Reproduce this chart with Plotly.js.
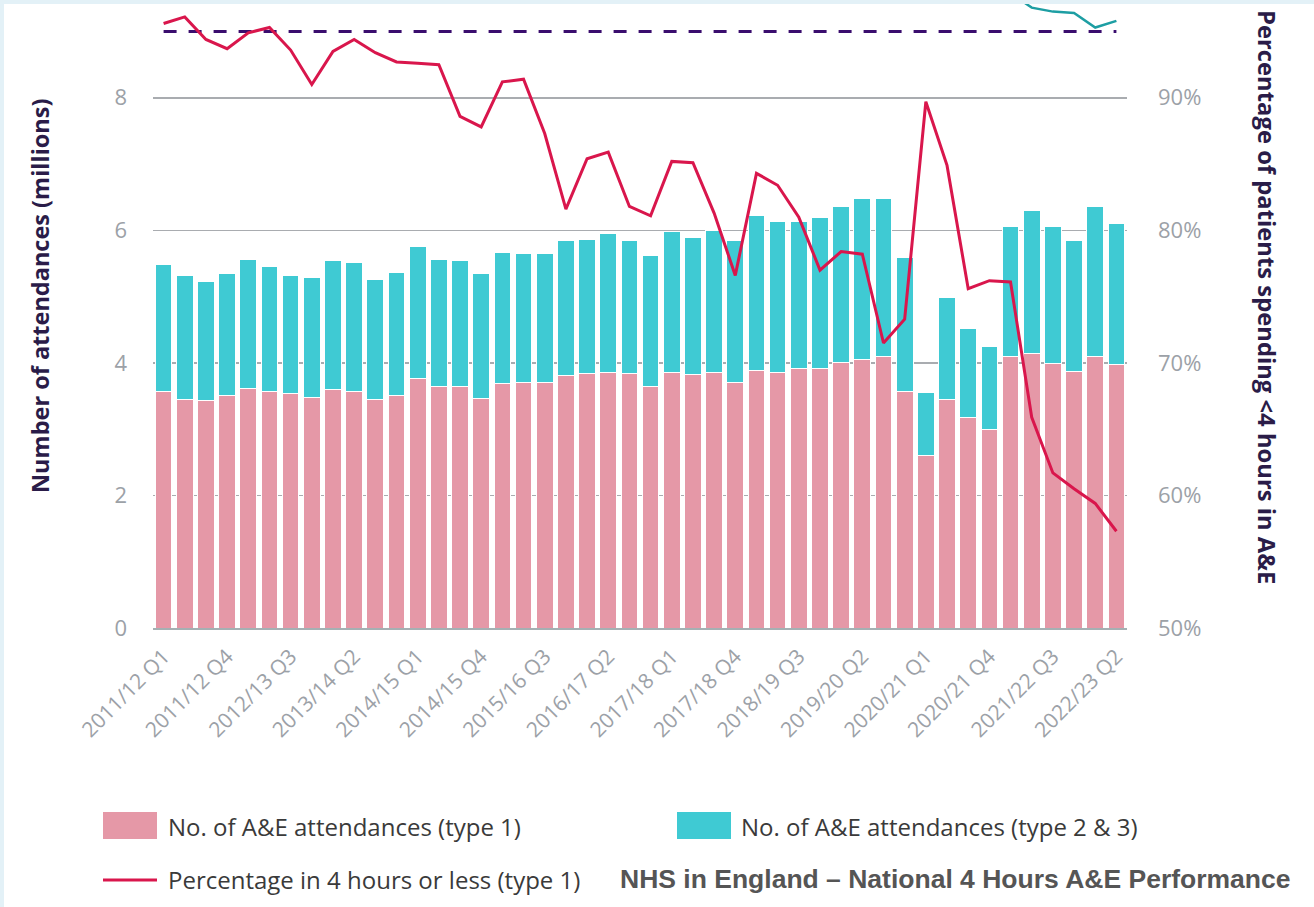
<!DOCTYPE html>
<html>
<head>
<meta charset="utf-8">
<script src="https://cdn.plot.ly/plotly-3.0.1.min.js"></script>
<style>
  html, body { margin: 0; padding: 0; background: #e3f1f7; width: 1314px; height: 907px; overflow: hidden; }
  #chart { position: absolute; left: 4px; top: 4px; width: 1310px; height: 903px; background: #ffffff; }
</style>
</head>
<body>
<div id="chart"></div>
<script>
// ---- Data ----
const quarters = [
  "2011/12 Q1","2011/12 Q2","2011/12 Q3","2011/12 Q4",
  "2012/13 Q1","2012/13 Q2","2012/13 Q3","2012/13 Q4",
  "2013/14 Q1","2013/14 Q2","2013/14 Q3","2013/14 Q4",
  "2014/15 Q1","2014/15 Q2","2014/15 Q3","2014/15 Q4",
  "2015/16 Q1","2015/16 Q2","2015/16 Q3","2015/16 Q4",
  "2016/17 Q1","2016/17 Q2","2016/17 Q3","2016/17 Q4",
  "2017/18 Q1","2017/18 Q2","2017/18 Q3","2017/18 Q4",
  "2018/19 Q1","2018/19 Q2","2018/19 Q3","2018/19 Q4",
  "2019/20 Q1","2019/20 Q2","2019/20 Q3","2019/20 Q4",
  "2020/21 Q1","2020/21 Q2","2020/21 Q3","2020/21 Q4",
  "2021/22 Q1","2021/22 Q2","2021/22 Q3","2021/22 Q4",
  "2022/23 Q1","2022/23 Q2"
];

// Millions of attendances, type 1 A&E
const type1 = [
  3.57, 3.45, 3.43, 3.51, 3.62, 3.57, 3.54, 3.48, 3.60, 3.57,
  3.45, 3.51, 3.76, 3.65, 3.65, 3.46, 3.69, 3.70, 3.70, 3.81,
  3.84, 3.85, 3.84, 3.64, 3.85, 3.83, 3.85, 3.70, 3.88, 3.86,
  3.91, 3.92, 4.00, 4.05, 4.09, 3.57, 2.60, 3.45, 3.18, 2.99,
  4.10, 4.14, 3.99, 3.87, 4.09, 3.98
];

// Millions of attendances, type 2 & 3 A&E
const type23 = [
  1.91, 1.87, 1.80, 1.84, 1.94, 1.88, 1.78, 1.81, 1.94, 1.94,
  1.81, 1.86, 2.00, 1.91, 1.89, 1.89, 1.98, 1.95, 1.95, 2.03,
  2.02, 2.10, 2.00, 1.98, 2.13, 2.06, 2.15, 2.14, 2.34, 2.28,
  2.23, 2.28, 2.36, 2.43, 2.39, 2.02, 0.95, 1.53, 1.34, 1.25,
  1.96, 2.16, 2.07, 1.97, 2.27, 2.13
];

// % of type 1 patients spending 4 hours or less in A&E
const pctType1 = [
  95.6, 96.1, 94.4, 93.7, 94.9, 95.3, 93.6, 91.0, 93.5, 94.4,
  93.4, 92.7, 92.6, 92.5, 88.6, 87.8, 91.2, 91.4, 87.3, 81.6,
  85.4, 85.9, 81.8, 81.1, 85.2, 85.1, 81.3, 76.6, 84.3, 83.4,
  81.0, 77.0, 78.4, 78.2, 71.5, 73.3, 89.7, 84.9, 75.6, 76.2,
  76.1, 65.9, 61.7, 60.5, 59.4, 57.3
];

// Partly visible (clipped at the top) all-types line, only its visible tail
const pctAllTail = [
  null, null, null, null, null, null, null, null, null, null,
  null, null, null, null, null, null, null, null, null, null,
  null, null, null, null, null, null, null, null, null, null,
  null, null, null, null, null, null, null, null, null, null,
  97.9, 96.8, 96.5, 96.4, 95.3, 95.8
];

const targetPct = 95;
const leftTicks = [0, 2, 4, 6, 8];
const rightTicks = [50, 60, 70, 80, 90];
const rightTickText = ["50%", "60%", "70%", "80%", "90%"];
const xTickEvery = 3;

// ---- Layout geometry ----
const W = 1310, H = 903;
const M = { l: 149, r: 187, t: 0, b: 279 };
const PW = W - M.l - M.r, PH = H - M.t - M.b;
// convert reference-picture pixel coordinates to paper coordinates (div is offset by 4px)
const px = x => (x - 4 - M.l) / PW;
const py = y => 1 - (y - 4 - M.t) / PH;

const leftMax = 9.415;
const rightMin = 50, rightMax = 50 + leftMax * 5;

const xTickVals = quarters.filter((q, i) => i % xTickEvery === 0);

const pink = "#e598a7", teal = "#3fcad3", red = "#d9164c", purple = "#3a0d6e", tealLine = "#1d9ea3";
const tickGray = "#9ca1a7", titleDark = "#2a1c48";
const baseFont = "'Open Sans', Lato, sans-serif";

const traces = [
  {
    type: "bar", x: quarters, y: type1, name: "No. of A&E attendances (type 1)",
    marker: { color: pink, line: { color: "#ffffff", width: 1 } },
    showlegend: false, hoverinfo: "x+y"
  },
  {
    type: "bar", x: quarters, y: type23, name: "No. of A&E attendances (type 2 & 3)",
    marker: { color: teal, line: { color: "#ffffff", width: 1 } },
    showlegend: false, hoverinfo: "x+y"
  },
  {
    type: "scatter", mode: "lines", x: quarters, y: quarters.map(() => targetPct), yaxis: "y2",
    line: { color: purple, width: 3, dash: "13px,12px" }, showlegend: false, hoverinfo: "skip"
  },
  {
    type: "scatter", mode: "lines", x: quarters, y: pctAllTail, yaxis: "y2",
    line: { color: tealLine, width: 2.5 }, showlegend: false, connectgaps: false
  },
  {
    type: "scatter", mode: "lines", x: quarters, y: pctType1, yaxis: "y2",
    name: "Percentage in 4 hours or less (type 1)",
    line: { color: red, width: 3 }, showlegend: false
  }
];

const annotations = [
  { xref: "paper", yref: "paper", x: px(40), y: py(296), text: "Number of attendances (millions)",
    showarrow: false, textangle: -90, xanchor: "center", yanchor: "middle",
    font: { family: baseFont, size: 23.5, color: titleDark, weight: 700 } },
  { xref: "paper", yref: "paper", x: px(1267), y: py(297), text: "Percentage of patients spending &lt;4 hours in A&amp;E",
    showarrow: false, textangle: 90, xanchor: "center", yanchor: "middle",
    font: { family: baseFont, size: 23.8, color: titleDark, weight: 700 } },
  { xref: "paper", yref: "paper", x: px(166), y: py(826), text: "No. of A&amp;E attendances (type 1)",
    showarrow: false, xanchor: "left", yanchor: "middle",
    font: { family: baseFont, size: 24, color: "#3a3a3a" } },
  { xref: "paper", yref: "paper", x: px(739), y: py(826), text: "No. of A&amp;E attendances (type 2 &amp; 3)",
    showarrow: false, xanchor: "left", yanchor: "middle",
    font: { family: baseFont, size: 24, color: "#3a3a3a" } },
  { xref: "paper", yref: "paper", x: px(166), y: py(880), text: "Percentage in 4 hours or less (type 1)",
    showarrow: false, xanchor: "left", yanchor: "middle",
    font: { family: baseFont, size: 24, color: "#3a3a3a" } },
  { xref: "paper", yref: "paper", x: px(1292), y: py(879), text: "NHS in England – National 4 Hours A&amp;E Performance",
    showarrow: false, xanchor: "right", yanchor: "middle",
    font: { family: "'Liberation Sans', Arial, sans-serif", size: 26.5, color: "#555555", weight: 700 } }
];

const shapes = [
  { type: "rect", xref: "paper", yref: "paper", x0: px(103), x1: px(157), y0: py(812), y1: py(839),
    fillcolor: pink, line: { width: 0 } },
  { type: "rect", xref: "paper", yref: "paper", x0: px(677), x1: px(731), y0: py(812), y1: py(839),
    fillcolor: teal, line: { width: 0 } },
  { type: "line", xref: "paper", yref: "paper", x0: px(103), x1: px(157), y0: py(880), y1: py(880),
    line: { color: red, width: 3 } }
];

const layout = {
  width: W, height: H,
  margin: M,
  paper_bgcolor: "#ffffff", plot_bgcolor: "#ffffff",
  barmode: "stack", bargap: 0.21,
  font: { family: baseFont, color: tickGray },
  showlegend: false,
  xaxis: {
    type: "category", categoryorder: "array", categoryarray: quarters,
    range: [-0.5, quarters.length - 0.5],
    tickmode: "array", tickvals: xTickVals, ticktext: xTickVals,
    tickangle: -45, tickfont: { family: baseFont, size: 21, color: tickGray },
    ticks: "", ticklabelstandoff: 6,
    showgrid: false, showline: true, linecolor: "#a5b0b3", linewidth: 2,
    zeroline: false, fixedrange: true
  },
  yaxis: {
    range: [0, leftMax], tickmode: "array", tickvals: leftTicks,
    tickfont: { family: baseFont, size: 22, color: tickGray },
    ticks: "", ticklabelstandoff: 25,
    showgrid: true, gridcolor: "#a9acb0", gridwidth: 1.5,
    zeroline: false, showline: false, fixedrange: true
  },
  yaxis2: {
    overlaying: "y", side: "right",
    range: [rightMin, rightMax], tickmode: "array", tickvals: rightTicks, ticktext: rightTickText,
    tickfont: { family: baseFont, size: 22, color: tickGray },
    ticks: "", ticklabelstandoff: 30,
    showgrid: false, zeroline: false, showline: false, fixedrange: true
  },
  annotations: annotations,
  shapes: shapes
};

Plotly.newPlot("chart", traces, layout, { displayModeBar: false, staticPlot: true });
</script>
</body>
</html>
